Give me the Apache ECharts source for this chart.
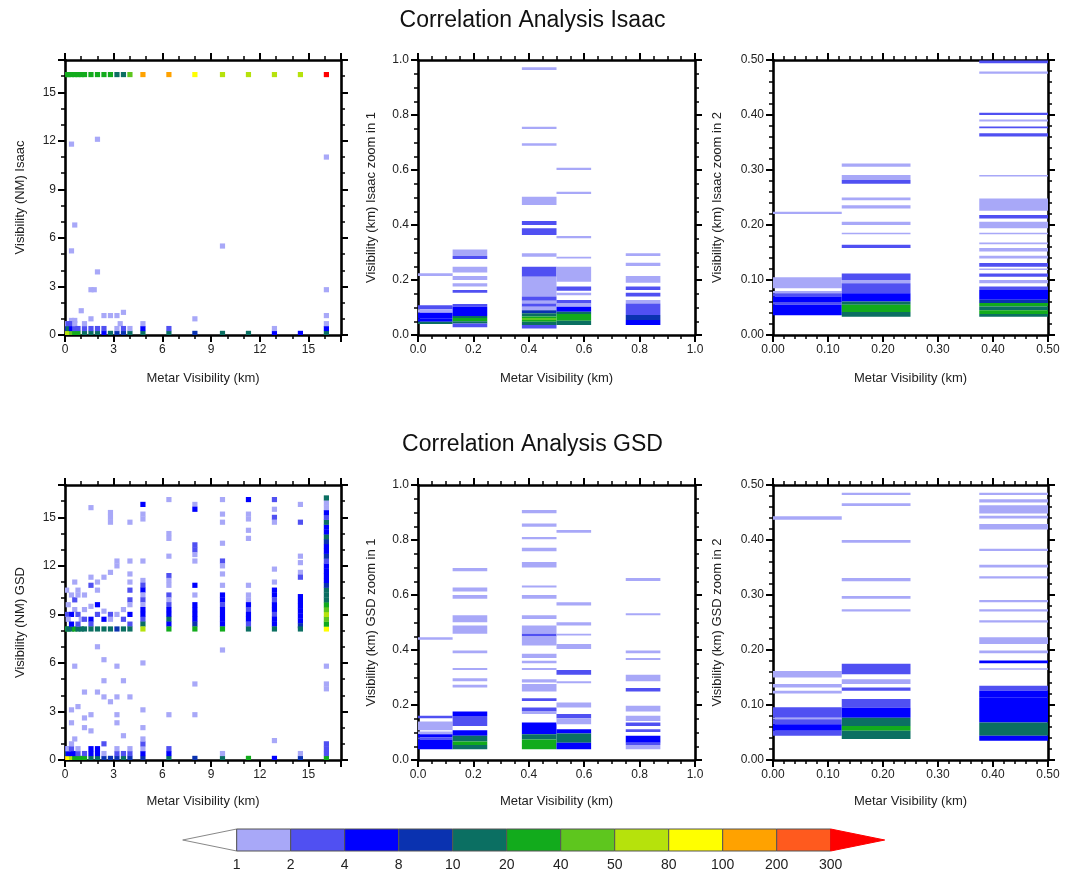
<!DOCTYPE html>
<html><head><meta charset="utf-8">
<script src="https://cdn.jsdelivr.net/npm/echarts@6/dist/echarts.min.js"></script>
<style>html,body{margin:0;padding:0;background:#fff}#c{width:1065px;height:875px}</style>
</head><body><div id="c"></div>
<script>
// ---------- DATA ----------
const levels = [1, 2, 4, 8, 10, 20, 40, 50, 80, 100, 200, 300];
const levelColors = ['#ffffff', '#a8a8f8', '#5050f2', '#0000ff', '#0a32b0', '#0b6f62', '#12ab1c', '#5ec61e', '#b6e20c', '#ffff00', '#ffa200', '#ff5a1e', '#ff0000'];
const titles = ['Correlation Analysis Isaac', 'Correlation Analysis GSD'];
const xName = 'Metar Visibility (km)';
const yNames = ['Visibility (NM) Isaac', 'Visibility (km) Isaac zoom in 1', 'Visibility (km) Isaac zoom in 2',
                'Visibility (NM) GSD', 'Visibility (km) GSD zoom in 1', 'Visibility (km) GSD zoom in 2'];

// full-range cells: [metar km, model value, count]
const isaacFullCells = [
  [0.1,16.1,25],[0.2,16.1,25],[0.4,16.1,30],[0.6,16.1,30],[0.8,16.1,25],[1.0,16.1,25],[1.2,16.1,25],[1.6,16.1,30],[2.0,16.1,25],
  [2.4,16.1,25],[2.8,16.1,25],[3.2,16.1,15],[3.6,16.1,15],[4.0,16.1,45],[4.8,16.1,150],[6.4,16.1,150],[8.0,16.1,90],[9.7,16.1,60],
  [11.3,16.1,60],[12.9,16.1,60],[14.5,16.1,60],[16.1,16.1,350],
  [0.4,11.8,1],[2.0,12.1,1],[16.1,11.0,1],[0.6,6.8,1],[0.4,5.2,1],[9.7,5.5,1],[2.0,3.9,1],[1.6,2.8,1],[1.8,2.8,1],[16.1,2.8,1],
  [1.0,1.5,1],[2.4,1.2,1],[2.8,1.2,1],[3.2,1.2,1],[3.6,1.4,1],[1.6,1.0,1],[8.0,1.0,1],[16.1,1.2,1],[0.4,0.9,1],[0.6,0.9,1],[3.4,0.7,1],
  [0.1,0.1,60],[0.1,0.4,5],[0.1,0.7,1],[0.2,0.1,60],[0.2,0.4,12],[0.2,0.7,2],[0.4,0.1,40],[0.4,0.4,6],[0.4,0.7,2],
  [0.6,0.1,25],[0.6,0.4,3],[0.6,0.7,1],[0.8,0.1,20],[0.8,0.4,3],[1.2,0.1,15],[1.2,0.4,2],[1.2,0.7,1],[1.6,0.1,12],[1.6,0.4,3],
  [2.0,0.1,10],[2.0,0.4,3],[2.4,0.1,5],[2.4,0.4,2],[2.8,0.1,12],[3.2,0.1,8],[3.2,0.4,1],[3.6,0.1,9],[3.6,0.4,2],
  [4.0,0.1,12],[4.0,0.4,1],[4.8,0.1,10],[4.8,0.4,5],[4.8,0.7,1],[6.4,0.1,12],[6.4,0.4,3],[8.0,0.1,8],[9.7,0.1,12],
  [11.3,0.1,15],[12.9,0.1,6],[12.9,0.4,1],[14.5,0.1,5],[16.1,0.1,12],[16.1,0.4,5],[16.1,0.7,1]
];
const gsdFullCells = [
  [0.1,10.5,1],[0.4,10.2,1],[0.6,11.0,1],[0.8,10.5,1],[1.2,10.2,1],[0.2,9.6,1],[0.6,9.3,1],[0.4,9.0,5],[0.8,9.0,3],[1.2,9.3,1],
  [0.1,9.0,3],[0.2,8.7,1],[1.0,8.7,1],[0.6,9.9,3],[0.8,10.2,1],
  [0.1,8.1,25],[0.2,8.1,12],[0.4,8.1,12],[0.6,8.1,25],[0.8,8.1,12],[1.0,8.1,12],[1.2,8.1,12],[0.4,8.4,5],[0.8,8.4,3],[1.2,8.7,3],
  [1.6,15.6,1],[1.6,11.3,1],[1.6,10.8,3],[1.6,9.5,1],[1.6,8.7,5],[1.6,8.4,3],[1.6,8.1,12],
  [2.0,11.0,1],[2.0,10.5,1],[2.0,9.6,5],[2.0,9.0,3],[2.0,8.1,12],[2.0,7.0,1],
  [2.4,11.3,1],[2.4,9.2,1],[2.4,8.7,5],[2.4,8.1,12],[2.4,6.2,1],
  [2.8,15.3,1],[2.8,15.0,1],[2.8,14.7,1],[2.8,11.6,1],[2.8,9.0,3],[2.8,8.7,1],[2.8,8.1,12],
  [3.2,12.3,1],[3.2,12.0,1],[3.2,9.0,1],[3.2,8.1,9],[3.2,5.8,1],
  [3.6,9.3,1],[3.6,8.7,3],[3.6,8.1,12],[3.6,4.9,1],
  [4.0,14.7,1],[4.0,12.3,1],[4.0,11.5,1],[4.0,11.0,1],[4.0,10.5,3],[4.0,9.9,3],[4.0,9.6,1],[4.0,9.0,5],[4.0,8.4,3],[4.0,8.1,12],
  [4.8,15.8,5],[4.8,15.2,1],[4.8,14.9,1],[4.8,12.3,1],[4.8,11.1,1],[4.8,10.8,3],[4.8,10.5,5],[4.8,10.2,1],[4.8,9.9,3],[4.8,9.6,1],
  [4.8,9.3,5],[4.8,9.0,5],[4.8,8.7,3],[4.8,8.4,12],[4.8,8.1,60],[4.8,6.0,1],
  [6.4,16.1,1],[6.4,14.0,1],[6.4,13.7,1],[6.4,12.6,1],[6.4,11.4,3],[6.4,11.1,1],[6.4,10.8,1],[6.4,10.2,3],[6.4,9.9,1],[6.4,9.6,3],
  [6.4,9.3,5],[6.4,9.0,5],[6.4,8.7,12],[6.4,8.4,5],[6.4,8.1,25],
  [8.0,15.8,1],[8.0,15.5,5],[8.0,13.3,3],[8.0,13.0,3],[8.0,12.7,1],[8.0,12.3,1],[8.0,10.8,5],[8.0,10.2,1],[8.0,9.6,5],[8.0,9.3,5],
  [8.0,9.0,5],[8.0,8.7,5],[8.0,8.4,9],[8.0,8.1,25],[8.0,4.7,1],
  [9.7,16.1,1],[9.7,15.2,1],[9.7,14.7,1],[9.7,13.4,1],[9.7,12.3,3],[9.7,12.0,1],[9.7,11.5,1],[9.7,10.8,1],[9.7,10.2,5],[9.7,9.9,5],
  [9.7,9.6,3],[9.7,9.3,5],[9.7,9.0,5],[9.7,8.7,5],[9.7,8.4,5],[9.7,8.1,25],[9.7,6.8,1],
  [11.3,16.1,6],[11.3,15.2,1],[11.3,14.9,1],[11.3,14.2,1],[11.3,13.7,1],[11.3,10.8,1],[11.3,10.2,1],[11.3,9.9,1],[11.3,9.6,5],
  [11.3,9.3,3],[11.3,9.0,5],[11.3,8.7,5],[11.3,8.4,3],[11.3,8.1,12],
  [12.9,16.1,3],[12.9,15.5,1],[12.9,15.0,3],[12.9,14.7,1],[12.9,11.8,1],[12.9,11.0,1],[12.9,10.5,5],[12.9,10.2,5],[12.9,9.9,3],
  [12.9,9.6,5],[12.9,9.3,5],[12.9,9.0,3],[12.9,8.7,5],[12.9,8.4,5],[12.9,8.1,12],
  [14.5,15.8,1],[14.5,14.7,3],[14.5,12.6,1],[14.5,12.2,1],[14.5,11.6,1],[14.5,11.3,3],[14.5,10.1,5],[14.5,9.8,5],[14.5,9.5,5],
  [14.5,9.2,5],[14.5,8.9,5],[14.5,8.6,5],[14.5,8.3,9],[14.5,8.1,12],
  [16.1,8.1,90],[16.1,8.4,30],[16.1,8.7,40],[16.1,9.0,60],[16.1,9.3,45],[16.1,9.6,25],[16.1,9.9,12],[16.1,10.2,12],[16.1,10.5,15],
  [16.1,10.8,9],[16.1,11.1,5],[16.1,11.4,5],[16.1,11.7,5],[16.1,12.0,5],[16.1,12.3,3],[16.1,12.6,9],[16.1,12.9,5],[16.1,13.2,5],
  [16.1,13.5,9],[16.1,13.8,12],[16.1,14.1,5],[16.1,14.4,5],[16.1,14.7,12],[16.1,15.0,3],[16.1,15.3,5],[16.1,15.6,1],[16.1,15.9,1],
  [16.1,16.2,15],
  [0.6,5.8,1],[16.1,5.8,1],[16.1,4.7,1],[16.1,4.4,1],[1.2,4.2,1],[2.0,4.2,1],[2.4,4.9,1],[2.4,3.9,1],[2.8,3.6,1],[3.2,3.9,1],
  [4.0,3.9,1],[0.4,3.1,1],[0.8,3.3,1],[0.4,2.3,1],[1.2,2.6,1],[1.6,2.8,1],[1.2,2.0,1],[1.6,1.8,1],[3.2,2.8,1],[3.2,2.3,1],
  [3.6,1.5,1],[4.8,3.1,1],[4.8,2.0,1],[6.4,2.8,1],[8.0,2.8,1],[12.9,1.2,1],
  [0.1,0.1,150],[0.2,0.1,90],[0.4,0.1,60],[0.6,0.1,30],[0.8,0.1,25],[1.0,0.1,20],[1.2,0.1,20],[0.1,0.4,12],[0.2,0.4,5],[0.4,0.4,5],
  [0.6,0.4,5],[0.8,0.4,3],[1.2,0.4,3],[0.1,0.7,3],[0.2,0.7,1],[0.4,0.7,3],[0.4,1.0,1],[0.6,1.3,1],[0.8,0.7,1],
  [1.6,0.1,12],[1.6,0.4,5],[1.6,0.7,5],[2.0,0.1,12],[2.0,0.4,5],[2.0,0.7,5],[2.4,0.1,9],[2.4,0.4,1],[2.4,1.0,3],[2.8,0.1,9],
  [3.2,0.1,9],[3.2,0.4,3],[3.2,0.7,1],[3.6,0.1,12],[3.6,0.4,3],[4.0,0.1,9],[4.0,0.4,3],[4.0,0.7,1],[4.8,0.1,9],[4.8,0.4,5],
  [4.8,0.7,1],[4.8,1.0,3],[4.8,1.3,1],[6.4,0.1,12],[6.4,0.4,5],[6.4,0.7,3],[8.0,0.1,9],[9.7,0.1,12],[9.7,0.4,1],[11.3,0.1,25],
  [12.9,0.1,5],[14.5,0.1,9],[14.5,0.4,1],[16.1,0.1,25],[16.1,0.4,3],[16.1,0.7,3],[16.1,1.0,3]
];
// zoom bands: [bin left edge km, low, high, count]
const isaacZoom1Bands = [
  [0,0.215,0.225,1],[0,0.094,0.108,3],[0,0.081,0.094,1],[0,0.061,0.081,5],[0,0.048,0.061,6],[0,0.04,0.048,15],
  [0.125,0.287,0.311,1],[0.125,0.276,0.287,3],[0.125,0.227,0.248,1],[0.125,0.2,0.215,1],[0.125,0.176,0.188,1],[0.125,0.154,0.164,3],
  [0.125,0.103,0.113,3],[0.125,0.069,0.103,6],[0.125,0.062,0.069,12],[0.125,0.05,0.062,25],[0.125,0.042,0.05,12],[0.125,0.028,0.042,3],
  [0.375,0.964,0.974,1],[0.375,0.749,0.757,1],[0.375,0.688,0.697,1],[0.375,0.473,0.503,1],[0.375,0.4,0.415,3],[0.375,0.364,0.388,3],
  [0.375,0.285,0.297,1],[0.375,0.212,0.248,3],[0.375,0.14,0.212,1],[0.375,0.125,0.14,3],[0.375,0.115,0.125,1],[0.375,0.103,0.115,3],
  [0.375,0.09,0.103,1],[0.375,0.079,0.09,9],[0.375,0.067,0.079,12],[0.375,0.062,0.067,25],[0.375,0.055,0.062,45],[0.375,0.048,0.055,25],
  [0.375,0.036,0.048,12],[0.375,0.024,0.036,3],
  [0.5,0.6,0.608,1],[0.5,0.513,0.521,1],[0.5,0.352,0.36,1],[0.5,0.278,0.285,1],[0.5,0.194,0.248,1],[0.5,0.161,0.176,3],
  [0.5,0.145,0.154,1],[0.5,0.115,0.127,3],[0.5,0.103,0.115,1],[0.5,0.085,0.103,5],[0.5,0.076,0.085,12],[0.5,0.052,0.076,25],[0.5,0.036,0.052,12],
  [0.75,0.287,0.297,1],[0.75,0.251,0.263,1],[0.75,0.19,0.215,1],[0.75,0.164,0.176,3],[0.75,0.14,0.154,3],[0.75,0.115,0.127,1],
  [0.75,0.073,0.115,3],[0.75,0.055,0.073,9],[0.75,0.036,0.055,5]
];
const isaacZoom2Bands = [
  [0,0.22,0.224,1],[0,0.085,0.105,1],[0,0.076,0.08,1],[0,0.07,0.076,3],[0,0.06,0.07,5],[0,0.055,0.06,3],[0,0.036,0.055,5],
  [0.125,0.306,0.312,1],[0.125,0.282,0.291,1],[0.125,0.275,0.282,3],[0.125,0.245,0.25,1],[0.125,0.23,0.236,1],[0.125,0.2,0.206,1],
  [0.125,0.183,0.186,1],[0.125,0.158,0.164,3],[0.125,0.1,0.112,3],[0.125,0.094,0.1,1],[0.125,0.076,0.094,3],[0.125,0.061,0.076,5],
  [0.125,0.055,0.061,12],[0.125,0.042,0.055,25],[0.125,0.033,0.042,12],
  [0.375,0.494,0.499,3],[0.375,0.475,0.479,1],[0.375,0.4,0.404,3],[0.375,0.388,0.392,1],[0.375,0.376,0.379,3],[0.375,0.361,0.367,3],
  [0.375,0.288,0.291,1],[0.375,0.226,0.248,1],[0.375,0.212,0.218,3],[0.375,0.194,0.206,1],[0.375,0.183,0.186,1],[0.375,0.165,0.168,1],
  [0.375,0.152,0.158,1],[0.375,0.139,0.144,1],[0.375,0.124,0.131,3],[0.375,0.118,0.121,1],[0.375,0.106,0.112,3],[0.375,0.094,0.1,1],
  [0.375,0.082,0.088,3],[0.375,0.064,0.082,5],[0.375,0.058,0.064,9],[0.375,0.052,0.058,25],[0.375,0.045,0.052,12],[0.375,0.038,0.045,25],
  [0.375,0.033,0.038,12]
];
const gsdZoom1Bands = [
  [0,0.437,0.446,1],[0,0.152,0.161,3],[0,0.108,0.14,1],[0,0.094,0.104,1],[0,0.082,0.094,5],[0,0.075,0.082,3],[0,0.039,0.075,5],
  [0.125,0.686,0.698,1],[0.125,0.613,0.627,1],[0.125,0.586,0.6,1],[0.125,0.501,0.526,1],[0.125,0.459,0.489,1],[0.125,0.388,0.398,1],
  [0.125,0.327,0.335,1],[0.125,0.286,0.297,1],[0.125,0.264,0.274,1],[0.125,0.16,0.176,5],[0.125,0.124,0.16,3],
  [0.125,0.088,0.108,5],[0.125,0.067,0.088,12],[0.125,0.055,0.067,25],[0.125,0.039,0.055,12],
  [0.375,0.897,0.909,1],[0.375,0.848,0.86,1],[0.375,0.803,0.811,1],[0.375,0.759,0.772,1],[0.375,0.7,0.72,1],[0.375,0.627,0.635,1],
  [0.375,0.586,0.6,1],[0.375,0.513,0.526,1],[0.375,0.459,0.489,1],[0.375,0.449,0.459,3],[0.375,0.416,0.449,1],[0.375,0.371,0.386,1],
  [0.375,0.352,0.361,1],[0.375,0.327,0.335,1],[0.375,0.282,0.294,1],[0.375,0.249,0.276,1],[0.375,0.215,0.225,3],[0.375,0.176,0.191,3],
  [0.375,0.167,0.176,1],[0.375,0.094,0.136,5],[0.375,0.075,0.094,12],[0.375,0.039,0.075,25],
  [0.5,0.826,0.836,1],[0.5,0.562,0.574,1],[0.5,0.489,0.501,1],[0.5,0.453,0.459,1],[0.5,0.404,0.422,1],[0.5,0.31,0.327,3],
  [0.5,0.279,0.286,1],[0.5,0.191,0.209,1],[0.5,0.152,0.167,3],[0.5,0.13,0.152,1],[0.5,0.096,0.112,5],[0.5,0.063,0.096,12],[0.5,0.039,0.063,5],
  [0.75,0.651,0.662,1],[0.75,0.526,0.534,1],[0.75,0.388,0.398,1],[0.75,0.364,0.371,1],[0.75,0.286,0.31,1],[0.75,0.249,0.262,3],
  [0.75,0.176,0.197,1],[0.75,0.142,0.161,1],[0.75,0.124,0.136,3],[0.75,0.102,0.112,3],[0.75,0.063,0.088,5],[0.75,0.055,0.063,3],[0.75,0.039,0.055,1]
];
const gsdZoom2Bands = [
  [0,0.437,0.443,1],[0,0.15,0.162,1],[0,0.132,0.138,1],[0,0.121,0.126,1],[0,0.077,0.096,3],[0,0.074,0.077,1],[0,0.065,0.074,3],
  [0,0.053,0.065,5],[0,0.044,0.053,3],
  [0.125,0.482,0.486,1],[0.125,0.462,0.467,1],[0.125,0.395,0.4,1],[0.125,0.325,0.331,1],[0.125,0.293,0.298,1],[0.125,0.27,0.274,1],
  [0.125,0.156,0.175,3],[0.125,0.138,0.147,1],[0.125,0.126,0.132,3],[0.125,0.095,0.111,3],[0.125,0.077,0.095,5],[0.125,0.062,0.077,12],
  [0.125,0.053,0.062,25],[0.125,0.038,0.053,12],
  [0.375,0.482,0.486,1],[0.375,0.468,0.474,1],[0.375,0.448,0.463,1],[0.375,0.439,0.444,1],[0.375,0.419,0.429,1],[0.375,0.38,0.384,1],
  [0.375,0.35,0.355,1],[0.375,0.33,0.334,1],[0.375,0.287,0.291,1],[0.375,0.27,0.274,1],[0.375,0.25,0.254,1],[0.375,0.211,0.223,1],
  [0.375,0.194,0.199,1],[0.375,0.176,0.181,5],[0.375,0.164,0.167,1],[0.375,0.126,0.135,3],[0.375,0.114,0.126,5],[0.375,0.102,0.114,5],
  [0.375,0.068,0.102,5],[0.375,0.044,0.068,12],[0.375,0.035,0.044,5]
];

// ---------- LAYOUT / STYLE ----------
const FONT = 'Liberation Sans, Arial, Helvetica, sans-serif';
const FULL_HALF = 0.16;     // half size of a cell in full panels (axis units)
const ZOOM_BIN = 0.125;     // metar bin width in zoom panels
const panels = [
  {left: 65,  top: 60,  width: 276, height: 275, max: 17,  major: 3,   minor: 1,    dec: 0, kind: 'full', data: isaacFullCells,  yGap: 38, xGap: 37},
  {left: 418, top: 60,  width: 277, height: 275, max: 1,   major: 0.2, minor: 0.05, dec: 1, kind: 'zoom', data: isaacZoom1Bands, yGap: 40, xGap: 37},
  {left: 773, top: 60,  width: 275, height: 275, max: 0.5, major: 0.1, minor: 0.02, dec: 2, kind: 'zoom', data: isaacZoom2Bands, yGap: 49, xGap: 37},
  {left: 65,  top: 485, width: 276, height: 275, max: 17,  major: 3,   minor: 1,    dec: 0, kind: 'full', data: gsdFullCells,    yGap: 38, xGap: 35},
  {left: 418, top: 485, width: 277, height: 275, max: 1,   major: 0.2, minor: 0.05, dec: 1, kind: 'zoom', data: gsdZoom1Bands,   yGap: 40, xGap: 35},
  {left: 773, top: 485, width: 275, height: 275, max: 0.5, major: 0.1, minor: 0.02, dec: 2, kind: 'zoom', data: gsdZoom2Bands,   yGap: 49, xGap: 35}
];

const grids = [], xAxes = [], yAxes = [], series = [];
const fullIdx = [], zoomIdx = [];

function fmt(major, dec) {
  return function (v) {
    const r = v / major;
    if (Math.abs(r - Math.round(r)) > 1e-6) return '';
    return v.toFixed(dec);
  };
}
function axisDef(kind, gi, p, position, isMajor, withLabel, name, gap) {
  const a = {
    type: 'value', gridIndex: gi, min: 0, max: p.max,
    interval: isMajor ? p.major : p.minor,
    position: position,
    splitLine: {show: false},
    axisLine: {show: isMajor, onZero: false, lineStyle: {color: '#000', width: 2.6}},
    axisTick: {show: true, inside: false, length: isMajor ? 7 : 4, lineStyle: {color: '#000', width: isMajor ? 2 : 1.5}},
    axisLabel: {show: withLabel, margin: kind === 'x' ? 9 : 9, color: '#222', fontSize: 12, fontFamily: FONT, formatter: fmt(p.major, p.dec), showMinLabel: true, showMaxLabel: true, hideOverlap: false},
    silent: true
  };
  if (name) {
    a.name = name; a.nameLocation = 'middle'; a.nameGap = gap;
    a.nameTextStyle = {color: '#222', fontSize: 13, fontFamily: FONT};
  }
  return a;
}

panels.forEach(function (p, gi) {
  grids.push({left: p.left, top: p.top, width: p.width, height: p.height, containLabel: false, outerBoundsMode: 'none', show: false});
  const xi = xAxes.length, yi = yAxes.length;
  xAxes.push(axisDef('x', gi, p, 'bottom', true, true, xName, p.xGap));
  xAxes.push(axisDef('x', gi, p, 'bottom', false, false));
  xAxes.push(axisDef('x', gi, p, 'top', true, false));
  xAxes.push(axisDef('x', gi, p, 'top', false, false));
  yAxes.push(axisDef('y', gi, p, 'left', true, true, yNames[gi], p.yGap));
  yAxes.push(axisDef('y', gi, p, 'left', false, false));
  yAxes.push(axisDef('y', gi, p, 'right', true, false));
  yAxes.push(axisDef('y', gi, p, 'right', false, false));
  const sIdx = series.length;
  if (p.kind === 'full') fullIdx.push(sIdx); else zoomIdx.push(sIdx);
  series.push({
    type: 'custom', xAxisIndex: xi, yAxisIndex: yi, data: p.data, silent: true,
    encode: p.kind === 'full' ? {x: 0, y: 1} : {x: 0, y: [1, 2]},
    renderItem: function (params, api) {
      let p1, p2;
      if (p.kind === 'full') {
        const x = api.value(0), y = api.value(1);
        p1 = api.coord([x - FULL_HALF, y + FULL_HALF]);
        p2 = api.coord([x + FULL_HALF, y - FULL_HALF]);
      } else {
        const x0 = api.value(0), y0 = api.value(1), y1 = api.value(2);
        p1 = api.coord([x0, y1]);
        p2 = api.coord([x0 + ZOOM_BIN, y0]);
      }
      const cs = params.coordSys;
      const r = echarts.graphic.clipRectByRect(
        {x: p1[0], y: p1[1], width: p2[0] - p1[0], height: Math.max(p2[1] - p1[1], 1.2)},
        {x: cs.x, y: cs.y, width: cs.width, height: cs.height});
      if (!r) return null;
      return {type: 'rect', shape: r, style: {fill: api.visual('color')}};
    }
  });
});

// colour bar grid
const cbGrid = grids.length;
grids.push({left: 182.7, top: 829, width: 702, height: 22, containLabel: false, outerBoundsMode: 'none', show: false});
const cbX = xAxes.length, cbY = yAxes.length;
xAxes.push({type: 'value', gridIndex: cbGrid, min: -1, max: 12, interval: 1, position: 'bottom',
  axisLine: {show: false}, axisTick: {show: false}, splitLine: {show: false},
  axisLabel: {show: true, margin: 7, color: '#222', fontSize: 14, fontFamily: FONT, showMinLabel: true, showMaxLabel: true,
    formatter: function (v) { return (v >= 0 && v < levels.length) ? String(levels[v]) : ''; }}});
yAxes.push({type: 'value', gridIndex: cbGrid, min: 0, max: 1, show: false});
const cbData = [[-1, 0]].concat(levels.map(function (lv, i) { return [i, lv]; }));
const cbIdx = series.length;
series.push({
  type: 'custom', xAxisIndex: cbX, yAxisIndex: cbY, data: cbData, silent: true, encode: {x: 0},
  renderItem: function (params, api) {
    const i = api.value(0);
    const color = api.visual('color');
    const st = {fill: color, stroke: '#555', lineWidth: 1};
    if (i === -1) {
      return {type: 'polygon', shape: {points: [api.coord([0, 1]), api.coord([-1, 0.5]), api.coord([0, 0])]}, style: {fill: color, stroke: '#888', lineWidth: 1}};
    }
    if (i === levels.length - 1) {
      return {type: 'polygon', shape: {points: [api.coord([i, 1]), api.coord([i + 1, 0.5]), api.coord([i, 0])]}, style: {fill: color, stroke: color, lineWidth: 1}};
    }
    const a = api.coord([i, 1]), b = api.coord([i + 1, 0]);
    return {type: 'rect', shape: {x: a[0], y: a[1], width: b[0] - a[0], height: b[1] - a[1]}, style: st};
  }
});

function pieces() {
  const ps = [{lt: levels[0], color: levelColors[0]}];
  for (let i = 0; i < levels.length - 1; i++) ps.push({gte: levels[i], lt: levels[i + 1], color: levelColors[i + 1]});
  ps.push({gte: levels[levels.length - 1], color: levelColors[levelColors.length - 1]});
  return ps;
}

const chart = echarts.init(document.getElementById('c'), null, {renderer: 'canvas'});
chart.setOption({
  animation: false,
  backgroundColor: '#fff',
  textStyle: {fontFamily: FONT},
  title: [
    {text: titles[0], left: 'center', top: 4, textStyle: {fontSize: 23, fontWeight: 'normal', color: '#111', fontFamily: FONT}},
    {text: titles[1], left: 'center', top: 428, textStyle: {fontSize: 23, fontWeight: 'normal', color: '#111', fontFamily: FONT}}
  ],
  grid: grids, xAxis: xAxes, yAxis: yAxes,
  visualMap: [
    {type: 'piecewise', show: false, dimension: 2, seriesIndex: fullIdx, pieces: pieces()},
    {type: 'piecewise', show: false, dimension: 3, seriesIndex: zoomIdx, pieces: pieces()},
    {type: 'piecewise', show: false, dimension: 1, seriesIndex: [cbIdx], pieces: pieces()}
  ],
  series: series
});
</script></body></html>
